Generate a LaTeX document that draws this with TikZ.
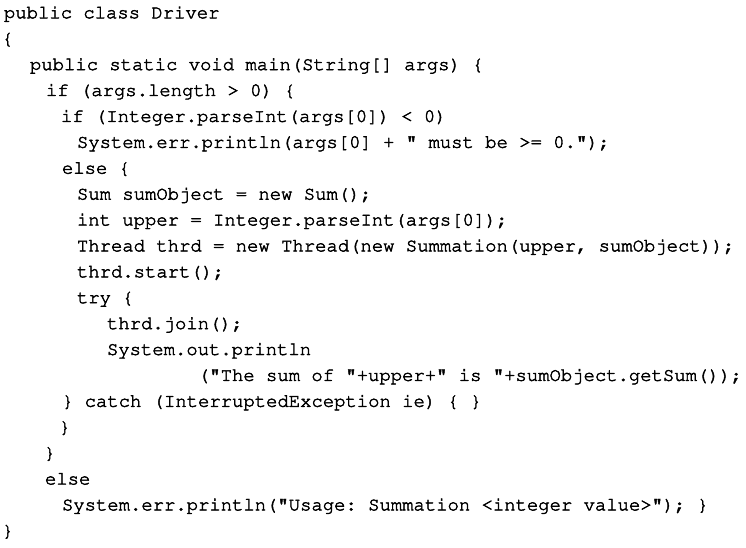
\documentclass[tikz,border=0pt]{standalone}
\usepackage[T1]{fontenc}
\usepackage{courier}
\frenchspacing
\begin{document}
\begin{tikzpicture}[x=1pt, y=-1pt,
    line/.style={anchor=base west, inner sep=0pt, outer sep=0pt,
                 font=\ttfamily\fontsize{18.9}{18.9}\selectfont\special{pdf:literal direct 2 Tr 0.45 w}}]
        \useasboundingbox (0, 0) rectangle (746, 548);
        \node [line] (l1)  at (4, 18.3)   {public class Driver};
        \node [line] (l2)  at (2, 44.2)   {\{};
        \node [line] (l3)  at (30, 70.1)  {public static void main(String[] args) \{};
        \node [line] (l4)  at (46, 96.0)  {if (args.length > 0) \{};
        \node [line] (l5)  at (61, 121.9) {if (Integer.parseInt(args[0]) < 0)};
        \node [line] (l6)  at (77, 147.8) {System.err.println(args[0] + " must be >= 0.");};
        \node [line] (l7)  at (62, 173.7) {else \{};
        \node [line] (l8)  at (77, 199.6) {Sum sumObject = new Sum();};
        \node [line] (l9)  at (77, 225.5) {int upper = Integer.parseInt(args[0]);};
        \node [line] (l10) at (77, 251.4) {Thread thrd = new Thread(new Summation(upper, sumObject));};
        \node [line] (l11) at (77, 277.3) {thrd.start();};
        \node [line] (l12) at (77, 303.2) {try \{};
        \node [line] (l13) at (107, 329.1) {thrd.join();};
        \node [line] (l14) at (107, 355.0) {System.out.println};
        \node [line] (l15) at (198, 380.9) {("The sum of "+upper+" is "+sumObject.getSum());};
        \node [line] (l16) at (62, 406.8) {\} catch (InterruptedException ie) \{ \}};
        \node [line] (l17) at (59, 432.7) {\}};
        \node [line] (l18) at (44, 458.6) {\}};
        \node [line] (l19) at (45, 484.5) {else};
        \node [line] (l20) at (62, 510.4) {System.err.println("Usage: Summation <integer value>"); \}};
        \node [line] (l21) at (2, 536.3)  {\}};
      \end{tikzpicture}
\end{document}
